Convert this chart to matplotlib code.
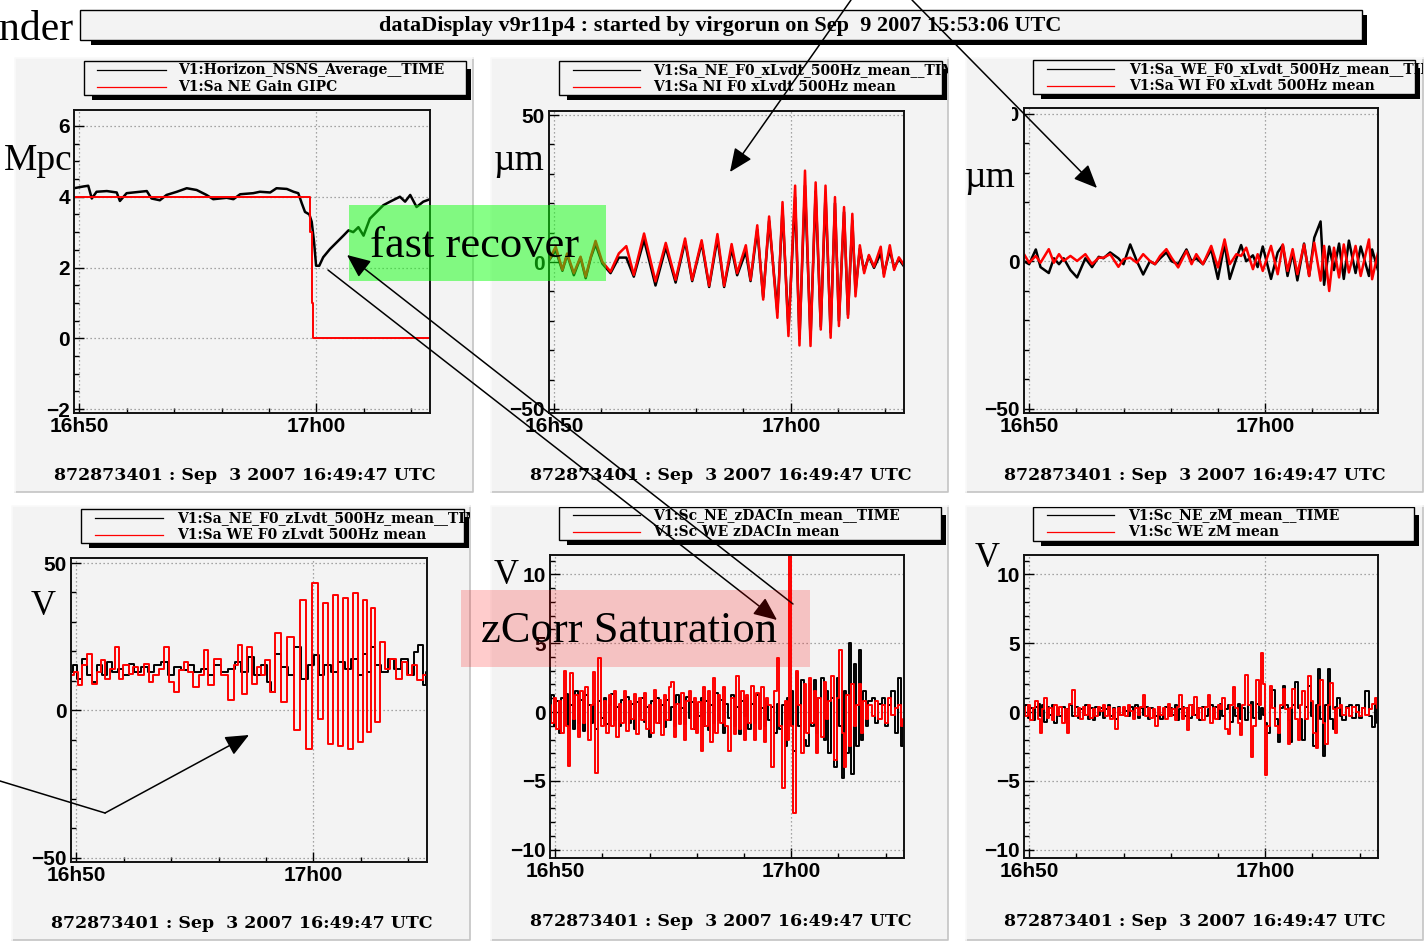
import numpy as np
import matplotlib
matplotlib.use("Agg")
import matplotlib.pyplot as plt
from matplotlib.patches import Rectangle
from matplotlib.transforms import Bbox
from matplotlib.ticker import FixedLocator, MultipleLocator

W, H = 1427, 942

# ---------------- data ----------------
title_text = "dataDisplay v9r11p4 : started by virgorun on Sep  9 2007 15:53:06 UTC"
date_text = "872873401 : Sep  3 2007 16:49:47 UTC"
xtick_pos = [13, 613]            # seconds after 16:49:47
xtick_labels = ["16h50", "17h00"]
xminor_pos = [133, 253, 373, 493, 733, 853]

legend_names = [
    ["V1:Horizon_NSNS_Average__TIME", "V1:Sa NE Gain GIPC"],
    ["V1:Sa_NE_F0_xLvdt_500Hz_mean__TIME", "V1:Sa NI F0 xLvdt 500Hz mean"],
    ["V1:Sa_WE_F0_xLvdt_500Hz_mean__TIME", "V1:Sa WI F0 xLvdt 500Hz mean"],
    ["V1:Sa_NE_F0_zLvdt_500Hz_mean__TIME", "V1:Sa WE F0 zLvdt 500Hz mean"],
    ["V1:Sc_NE_zDACIn_mean__TIME", "V1:Sc WE zDACIn mean"],
    ["V1:Sc_NE_zM_mean__TIME", "V1:Sc WE zM mean"],
]

# panel 1 : horizon (Mpc) and gain
t_horizon = [0, 24, 36, 45, 57, 83, 108, 116, 133, 167, 184, 196, 217, 234, 260, 285, 310, 335,
             352, 386, 403, 420, 453, 470, 496, 512, 538, 555, 567, 576, 584, 595, 601, 607,
             612, 620, 630, 647, 664, 681, 694, 706, 719, 732, 748, 765, 782, 799, 824, 837,
             850, 866, 883, 900]
horizon = [4.24, 4.29, 4.31, 3.95, 4.14, 4.16, 4.12, 3.88, 4.10, 4.14, 4.16, 3.95, 3.90, 4.05,
           4.14, 4.24, 4.19, 4.05, 3.93, 3.97, 3.93, 4.07, 4.10, 4.14, 4.12, 4.24, 4.22, 4.14,
           4.10, 3.81, 3.57, 3.50, 3.29, 2.71, 2.05, 2.05, 2.29, 2.52, 2.71, 2.90, 3.05, 3.00,
           3.14, 2.90, 3.38, 3.57, 3.76, 3.86, 4.00, 3.86, 4.05, 3.71, 3.86, 3.93]
t_gain = [0, 597, 601, 605, 900]
gain = [4.0, 3.0, 1.0, 0.0, 0.0]

# panel 2 : x LVDT NE / NI (um)
t_xn = [0, 17, 34, 46, 63, 80, 93, 106, 118, 135, 156, 177, 196, 215, 241, 270, 296, 321, 345,
        363, 387, 406, 427, 444, 463, 477, 499, 511, 528, 543, 558, 579, 592, 607, 624, 635,
        649, 663, 676, 689, 701, 714, 725, 735, 748, 758, 769, 777, 788, 799, 811, 824, 841,
        849, 864, 875, 887, 900]
xlvdt_ne = [0.5, 4, -3, 2.5, -4.5, 1.5, -5.5, 1.5, 6, -0.5, -3.8, 1.5, 1.5, -5, 7.5, -8, 5, -7,
            7, -6.5, 6.5, -8.5, 8, -8.5, 4.5, -4.5, 3.5, -6.5, 11, -12, 14, -17, 18, -23, 22,
            -26, 26, -26, 24, -22, 23, -24, 20, -20, 17, -18, 14, -10, 4.5, -3, 2, -2, 3, -4,
            4, -2, 1, -1.5]
xlvdt_ni = [0.7, 5.2, -2.7, 2.9, -3.8, 1.8, -5.0, 1.8, 7.2, 0.1, -3.3, 2.9, 5.4, -4.4, 9.7,
            -6.6, 6.5, -6.1, 8.0, -6.1, 7.4, -8.1, 9.5, -8.1, 6.1, -3.8, 5.7, -6.1, 12.5,
            -12.8, 15.5, -19.0, 20.4, -25.2, 26.0, -28.4, 31.1, -28.6, 27.1, -23.0, 26.0,
            -25.8, 22.1, -21.8, 18.7, -19.0, 16.4, -11.7, 5.7, -3.8, 2.4, -1.6, 5.2, -5.0, 5.7,
            -2.7, 1.6, -1.0]

# panel 3 : x LVDT WE / WI (um)
t_xw = [0, 13, 30, 42, 63, 76, 89, 101, 118, 135, 156, 173, 190, 202, 219, 240, 253, 270, 287,
        303, 320, 333, 346, 362, 375, 392, 413, 426, 438, 455, 476, 493, 510, 523, 540, 552,
        565, 582, 594, 607, 628, 645, 658, 670, 683, 695, 712, 725, 738, 754, 763, 776, 788,
        801, 813, 826, 843, 856, 877, 885, 900]
xlvdt_we = [0, -1, 4, -2, -4, 1, -1, 1, -3, -5.5, 1, -2, 1.5, 1, 3, 1, -1, 5.7, 0, -4.5, 0, -1,
            1, 3, 0, -1, 4, 0, 1, -1, 4, -6, 6, -6, 1, 5.5, 0, 2, -2, 5, -6, 3, 5.5, -5, 3,
            -6.5, 6, -5, 8, 13.5, -8, 5, -3, 6, -6, 7, -4, 5, -5, 4, -3]
xlvdt_wi = [2.4, -0.5, 1.8, -0.5, 4.1, -0.5, 2.4, 0.1, 1.8, 0.1, 2.4, -1.0, 1.2, 1.2, 2.4, -1.9,
            0.7, 1.2, -0.5, 2.4, 0.1, -1.0, 1.8, 4.1, 1.2, -2.1, 3.5, -1.0, 2.4, -1.0, 5.2,
            -2.1, 7.4, -1.0, 2.4, 1.8, 4.6, -2.7, 2.4, -3.3, 5.2, -4.4, 5.7, -3.3, 4.1, -4.4,
            5.7, -5.0, 6.3, -6.6, 5.2, -10.1, 4.6, -5.5, 5.7, -3.8, 5.2, -5.0, 7.4, -6.1, 2.9]

# panel 4 : z LVDT NE / WE
t_zl_ne = [0, 10, 21, 34, 46, 59, 72, 84, 97, 110, 126, 139, 152, 169, 185, 202, 219, 236, 253,
           270, 287, 303, 320, 337, 354, 371, 388, 405, 422, 438, 455, 472, 489, 502, 510, 523,
           540, 556, 573, 590, 607, 620, 632, 649, 666, 683, 700, 717, 733, 742, 754, 763, 776,
           792, 809, 826, 843, 860, 872, 885, 894, 900]
zlvdt_ne = [13.0, 15.3, 10.8, 17.6, 11.9, 9.6, 15.3, 11.9, 16.4, 13.0, 14.2, 11.9, 15.9, 13.0,
            14.7, 13.0, 15.3, 16.4, 11.9, 14.7, 13.6, 15.3, 13.0, 14.2, 11.9, 15.3, 13.0, 14.2,
            16.4, 13.0, 18.1, 11.9, 15.3, 9.6, 6.2, 19.3, 14.7, 11.9, 21.5, 10.8, 15.3, 18.7,
            11.9, 15.3, 13.0, 16.4, 14.2, 17.6, 11.9, 19.3, 13.0, 21.5, 15.3, 13.0, 17.6, 14.2,
            17.6, 11.9, 19.8, 22.1, 8.5, 13.0]
t_zl_we = [0, 13, 21, 34, 46, 59, 72, 80, 93, 105, 116, 126, 139, 152, 164, 177, 190, 202, 215,
           228, 240, 253, 266, 278, 291, 303, 316, 329, 341, 354, 371, 388, 405, 417, 426, 438,
           451, 464, 476, 485, 497, 510, 523, 538, 556, 572, 586, 603, 617, 631, 645, 656, 670,
           681, 696, 706, 721, 732, 742, 755, 763, 776, 786, 801, 814, 830, 843, 856, 868, 881,
           900]
zlvdt_we = [11.9, 13.0, 8.5, 15.3, 19.3, 9.1, 13.0, 17.0, 10.8, 14.2, 21.5, 10.8, 15.3, 12.5,
            14.7, 11.9, 15.9, 9.6, 11.9, 14.2, 21.5, 9.6, 6.2, 13.6, 16.4, 13.0, 7.9, 11.9, 20.4,
            8.5, 17.6, 11.9, 3.4, 15.3, 22.1, 5.7, 21.5, 9.1, 14.7, 11.9, 17.0, 6.2, 26.1, 2.8,
            24.9, -6.8, 37.4, -13.0, 43.1, -2.8, 36.3, -11.3, 39.1, -11.9, 38.0, -13.0, 39.7,
            -10.8, 37.4, -7.4, 34.6, -4.0, 23.2, 14.2, 17.6, 10.8, 16.4, 11.9, 15.3, 10.2, 11.9]

# panels 5 and 6 : zDACIn and zM (V), common sampling
t_sc = [0, 7, 13, 19, 25, 32, 38, 44, 49, 55, 61, 68, 75, 80, 86, 93, 100, 106, 112, 119,
        127, 134, 140, 146, 152, 159, 165, 171, 178, 185, 191, 197, 203, 210, 216, 222, 229,
        235, 241, 247, 254, 261, 267, 273, 280, 286, 292, 298, 305, 312, 318, 324, 330, 337,
        343, 349, 356, 363, 368, 374, 381, 386, 391, 398, 405, 411, 417, 424, 430, 436, 442,
        449, 457, 464, 470, 476, 483, 490, 495, 501, 508, 515, 521, 527, 534, 540, 546, 552,
        559, 566, 573, 580, 586, 593, 600, 606, 610, 615, 623, 628, 635, 642, 648, 654, 661,
        667, 673, 679, 686, 693, 699, 705, 711, 718, 725, 732, 739, 745, 750, 756, 762, 769,
        775, 781, 788, 794, 800, 806, 813, 822, 830, 839, 847, 855, 864, 872, 881, 889, 896,
        900]
zdac_ne = [-0.5, 1.2, -1.0, 0.8, -1.5, 1.0, -0.5, 1.3, -1.0, 0.5, -1.2, 1.5, -0.8, 0.9, -1.4,
           1.2, 0.5, -0.8, 0.6, -1.2, 0.8, -0.4, 1.0, -0.9, 0.5, 1.3, -0.6, 0.4, -1.0, 0.9,
           -0.5, 1.1, -0.8, 0.6, -1.2, 0.7, -0.3, 1.0, -0.7, 0.4, -1.8, 0.8, -0.5, 1.0, -0.8,
           0.5, -1.1, 0.9, -0.6, 0.4, -1.0, 1.2, -0.5, 0.3, -0.9, 1.1, -0.4, 0.7, -1.2, 0.6,
           -0.3, 1.0, -1.0, 0.8, -1.3, 0.5, -0.8, 1.4, -0.6, 0.9, -1.5, 0.6, -0.4, 1.2, -1.0,
           0.4, -1.6, 0.8, -0.3, 1.0, -1.2, 0.6, -0.8, 1.2, -0.5, 0.3, -1.0, 0.8, -0.6, 0.4,
           -1.5, 0.6, -1.2, 0.5, -2.5, 1.0, -0.5, 1.5, -2.8, 2.8, -1.0, 2.3, -2.0, -2.5, 2.0,
           -1.0, 2.3, -1.5, 1.0, 2.5, -2.0, 1.5, -3.0, 1.0, -4.0, 2.5, -1.0, -4.8, 1.5, -3.0,
           5.0, -4.5, 3.5, -2.5, 4.5, -2.0, 1.5, -1.0, 0.8, 1.0, -0.8, 0.6, 1.0, -1.0, 0.5,
           1.5, -1.5, 2.5, -2.5, -1.0]
zdac_we = [0.5, -0.8, 1.0, -1.2, 0.8, -1.5, 3.0, -1.0, -3.9, 2.8, -0.5, 1.2, -1.8, 1.5, -0.8,
           1.8, -2.0, 0.5, 2.9, -4.4, 3.9, -1.0, 0.8, -1.5, 1.2, -1.0, 1.5, -1.8, 0.6, -0.8,
           1.5, -1.4, 0.8, -0.5, 1.3, -1.6, 1.0, -0.6, 1.4, -1.2, 0.5, -1.5, 1.6, -0.8, 0.9,
           -1.7, 1.2, -0.6, 1.8, 2.2, -1.8, 0.6, -0.9, 1.4, -2.0, 0.8, 1.5, -1.2, 1.0, -1.5,
           0.7, -2.8, 1.8, -1.0, 1.5, -2.2, 2.5, -1.5, 1.2, -0.8, 1.8, -1.0, -2.8, 1.0, -1.6,
           2.6, -1.2, 1.5, -2.0, 1.2, -0.8, 1.9, -2.0, 1.4, -1.2, 1.8, -2.2, 1.0, 0.5, -4.0,
           1.5, 3.9, -1.0, -5.5, 0.8, -2.0, 11.5, -1.0, -7.3, 3.0, 0.5, -3.0, 2.0, -1.5, 2.5,
           -0.8, 1.5, -3.0, 1.0, -1.8, 2.2, -0.5, 0.8, 2.6, -3.5, 1.0, 4.5, -1.5, -4.0, 1.2,
           -2.5, 2.0, -1.0, 0.5, 2.0, -1.5, 0.8, -0.5, 0.5, -0.3, 0.8, -0.5, 0.5, -0.8, 1.0,
           -0.2, 0.3, 0.5, -1.0, -0.5]
zm_ne = [0.2, 0.5, -0.4, 0.3, -0.6, 0.4, 0.6, -0.3, 0.5, -0.7, 0.4, -0.2, 0.5, -0.8, 0.3, -0.3,
         0.4, -0.5, 0.2, 0.5, -0.3, 0.4, -0.4, 0.2, -0.2, 0.5, -0.5, 0.3, -0.6, 0.4, -0.2, 0.3,
         -0.4, 0.2, 0.5, -0.3, 0.3, -0.5, 0.4, -0.2, 0.3, 0.1, -0.3, 0.4, -0.2, 0.5, -0.4, 0.3,
         -0.2, 0.4, -0.5, 0.3, 0.1, -0.3, 0.4, -0.5, 0.2, 0.4, -0.3, 0.3, -0.2, 0.5, -0.6, 0.2,
         0.4, -0.3, 0.3, -0.4, 0.5, -0.2, 0.3, -0.6, 0.4, -0.3, 0.2, 0.5, -0.4, 0.4, -0.5, 0.6,
         -0.3, 0.2, 0.5, -0.7, 0.4, -0.3, 0.6, -0.5, 0.3, -0.6, 0.5, 0.7, -0.4, 0.6, -0.5, 0.3,
         -0.2, -0.8, -1.5, 0.5, 1.6, -0.5, -2.2, 0.3, 1.9, 0.5, -0.6, -2.2, 0.5, 2.2, 0.3, -0.5,
         -2.0, 0.4, 1.9, -0.3, -2.5, 0.5, 3.1, -0.5, -3.2, 0.5, 3.1, -0.5, -1.2, 0.4, 1.0, -0.3,
         -0.6, 0.4, 0.5, -0.4, 0.5, -0.4, 0.3, 1.5, -0.3, -1.1, 0.5, -0.8]
zm_we = [0.4, -0.3, 0.5, -0.6, 0.3, 0.8, -0.5, -1.5, 0.2, 1.0, -0.4, 0.3, -0.6, 0.5, -0.2, 0.4,
         -0.8, 0.2, -1.5, 0.6, 1.6, -0.3, 0.3, -0.5, 0.4, -0.2, 0.5, -0.4, 0.2, -0.3, 0.4, 0.1,
         0.5, -0.3, 0.4, -0.5, 0.2, -1.2, 0.3, -0.2, 0.4, -0.3, 0.5, 0.1, -0.5, 0.3, -0.2, 0.4,
         1.2, -0.3, 0.3, -0.4, 0.2, -1.0, 0.4, -0.2, 0.3, -0.5, 0.6, -0.3, 0.2, -0.6, 0.4, 1.2,
         -0.5, 0.3, -1.3, 0.5, -0.2, 1.1, -0.4, 0.3, -0.6, 0.4, 1.2, -0.8, 0.3, -0.5, 0.5, 0.2,
         1.0, -1.2, -1.6, 0.5, 1.8, 0.3, -0.8, -1.7, 0.5, 2.7, 0.5, -3.3, -1.0, 2.3, 0.5, 4.3,
         2.0, -4.6, -1.0, 1.9, 0.3, -1.0, -1.5, 0.5, 1.7, 0.2, -2.3, 0.3, 1.7, -0.5, -2.0, 0.5,
         1.5, -0.5, 2.6, 0.8, -1.5, -2.6, 0.5, 2.3, -0.8, -2.3, 0.5, 2.1, 0.2, -1.5, 0.3, 0.5,
         -0.2, 0.3, -0.3, 0.4, 0.0, -0.3, 0.3, -0.2, 0.2, 0.6, 1.0, 0.3]

# ---------------- figure ----------------
fig = plt.figure(figsize=(W / 100, H / 100), dpi=100)
fig.patch.set_facecolor("white")

bg = fig.add_axes([0, 0, 1, 1], zorder=-5)
bg.set_xlim(0, W); bg.set_ylim(H, 0); bg.axis("off")
ov = fig.add_axes([0, 0, 1, 1], zorder=5)
ov.set_xlim(0, W); ov.set_ylim(H, 0); ov.axis("off"); ov.patch.set_alpha(0)

PANEL = "#f3f3f3"
frames = [(15, 58, 473, 492), (491, 58, 948, 492), (966, 58, 1423, 492),
          (12, 506, 470, 940), (491, 506, 948, 940), (966, 506, 1423, 940)]
for (x0, y0, x1, y1) in frames:
    bg.add_patch(Rectangle((x0, y0), x1 - x0, y1 - y0, fc=PANEL, ec="none"))
    bg.plot([x0, x1, x1], [y1, y1, y0], color="#c4c4c4", lw=1.2)
    bg.plot([x0, x0, x1], [y1, y0, y0], color="#fafafa", lw=1.2)

# title box
bg.add_patch(Rectangle((91, 15), 1276, 30, fc="black", ec="none"))
bg.add_patch(Rectangle((80, 10), 1282, 30, fc=PANEL, ec="black", lw=1.0))
bg.text(720, 26, title_text, ha="center", va="center", fontsize=16,
        fontfamily="Liberation Serif", fontweight="bold")


def rect(x0, y0, x1, y1):
    return [x0 / W, 1 - y1 / H, (x1 - x0) / W, (y1 - y0) / H]


axes_px = [(74, 110, 430, 413), (549, 111, 904, 413), (1024, 108, 1378, 413),
           (71, 558, 427, 862), (550, 555, 904, 858), (1024, 555, 1378, 858)]
ylims = [(-2.11, 6.45), (-51.4, 51.4), (-51.5, 52.0), (-51.4, 51.7), (-10.6, 11.4), (-10.6, 11.4)]
majors = [2, 50, 50, 50, 5, 5]
minors = [0.5, 10, 10, 10, 1, 1]
styles = [["default", "steps-post"], ["default", "default"], ["default", "default"],
          ["steps-mid", "steps-mid"], ["steps-mid", "steps-mid"], ["steps-mid", "steps-mid"]]

series = [
    [(t_horizon, horizon, "black"), (t_gain, gain, "red")],
    [(t_xn, xlvdt_ne, "black"), (t_xn, xlvdt_ni, "red")],
    [(t_xw, xlvdt_we, "black"), (t_xw, xlvdt_wi, "red")],
    [(t_zl_ne, zlvdt_ne, "black"), (t_zl_we, zlvdt_we, "red")],
    [(t_sc, zdac_ne, "black"), (t_sc, zdac_we, "red")],
    [(t_sc, zm_ne, "black"), (t_sc, zm_we, "red")],
]

for i, (px, yl) in enumerate(zip(axes_px, ylims)):
    ax = fig.add_axes(rect(*px), zorder=0)
    ax.set_facecolor(PANEL)
    for j, (tt, vv, col) in enumerate(series[i]):
        lw = 1.8 if styles[i][j] == "default" else 1.4
        ax.plot(tt, vv, color=col, lw=lw, drawstyle=styles[i][j])
    ax.set_xlim(0, 900)
    ax.set_ylim(*yl)
    ax.xaxis.set_major_locator(FixedLocator(xtick_pos))
    ax.set_xticklabels(xtick_labels)
    ax.xaxis.set_minor_locator(FixedLocator(xminor_pos))
    ax.yaxis.set_major_locator(MultipleLocator(majors[i]))
    ax.yaxis.set_minor_locator(MultipleLocator(minors[i]))
    ax.tick_params(which="both", direction="in", top=False, right=False, color="black")
    ax.tick_params(which="major", length=7, width=1.0, pad=3, labelsize=15)
    ax.tick_params(which="minor", length=3.5, width=1.0)
    ax.grid(True, which="major", linestyle=(0, (1, 2.2)), color="#8a8a8a", lw=0.9)
    for s in ax.spines.values():
        s.set_linewidth(1.4)
        s.set_color("#111111")
    for lab in ax.get_xticklabels() + ax.get_yticklabels():
        lab.set_fontfamily("Liberation Sans")
        lab.set_fontweight("bold")

# legends
legends = [(84, 61, 466, 95, 97, 166, 178, 70, 87, 473),
           (559, 61, 942, 95, 573, 640, 653, 70, 87, 948),
           (1033, 60, 1415, 94, 1047, 1114, 1129, 69, 86, 1423),
           (81, 509, 464, 543, 95, 163, 177, 518, 535, 470),
           (559, 507, 941, 540, 573, 640, 653, 515, 532, 948),
           (1033, 507, 1414, 541, 1047, 1114, 1128, 515, 532, 1423)]
for k, (x0, y0, x1, y1, lx0, lx1, tx, ya, yb, cx) in enumerate(legends):
    bg.add_patch(Rectangle((x0 + 8, y0 + 8), x1 - x0 - 3, y1 - y0 - 3, fc="black", ec="none"))
    bg.add_patch(Rectangle((x0, y0), x1 - x0, y1 - y0, fc=PANEL, ec="black", lw=1.0))
    bg.plot([lx0, lx1], [ya, ya], color="black", lw=0.9)
    bg.plot([lx0, lx1], [yb, yb], color="red", lw=0.9)
    for yy, name in zip([ya, yb], legend_names[k]):
        t = bg.text(tx, yy, name, ha="left", va="center", fontsize=10,
                    fontfamily="DejaVu Serif", fontweight="bold")
        t.set_clip_box(Bbox.from_extents(0, 0, cx, H))
        t.set_clip_on(True)

# date stamps
for (cx, cy) in [(245, 476), (721, 476), (1195, 476), (242, 924), (721, 921), (1195, 921)]:
    bg.text(cx, cy, date_text, ha="center", va="center", fontsize=12.5,
            fontfamily="DejaVu Serif", fontweight="bold")

# ---------------- annotations overlay ----------------
SERIF = "Liberation Serif"
ov.text(73, 40, "nder", ha="right", va="baseline", fontsize=30, fontfamily=SERIF)
ov.add_patch(Rectangle((968, 101), 44, 100, fc=PANEL, ec="none", zorder=1))
ov.text(4, 170, "Mpc", ha="left", va="baseline", fontsize=27, fontfamily=SERIF, zorder=4)
ov.text(494, 170, "µm", ha="left", va="baseline", fontsize=27, fontfamily=SERIF, zorder=4)
ov.text(965, 187, "µm", ha="left", va="baseline", fontsize=27, fontfamily=SERIF, zorder=4)
ov.text(31, 615, "V", ha="left", va="baseline", fontsize=25, fontfamily=SERIF, zorder=4)
ov.text(494, 584, "V", ha="left", va="baseline", fontsize=25, fontfamily=SERIF, zorder=4)
ov.text(975, 567, "V", ha="left", va="baseline", fontsize=25, fontfamily=SERIF, zorder=4)

# green box
ov.add_patch(Rectangle((349, 205), 257, 76, fc="#10ff10", alpha=0.5, ec="none", zorder=1))
ov.text(370, 257, "fast recover", ha="left", va="baseline", fontsize=32,
        fontfamily=SERIF, zorder=4)

aprops = dict(arrowstyle="-|>,head_length=0.8,head_width=0.35", color="black", lw=1.1,
              mutation_scale=18, shrinkA=0, shrinkB=0)
ov.annotate("", xy=(730, 172), xytext=(851, 0), arrowprops=aprops, zorder=2)
ov.annotate("", xy=(1097, 188), xytext=(912, 0), arrowprops=aprops, zorder=2)
ov.annotate("", xy=(347, 255), xytext=(793, 604), arrowprops=aprops, zorder=2)
ov.annotate("", xy=(777, 620), xytext=(328, 270), arrowprops=aprops, zorder=2)
ov.plot([0, 105], [781, 813], color="black", lw=1.1, zorder=2)
ov.annotate("", xy=(249, 735), xytext=(105, 813), arrowprops=aprops, zorder=2)

# pink box
ov.add_patch(Rectangle((461, 590), 349, 77, fc="#ff0000", alpha=0.2, ec="none", zorder=3))
ov.text(481, 642, "zCorr Saturation", ha="left", va="baseline", fontsize=32,
        fontfamily=SERIF, zorder=4)

fig.savefig("out.png", dpi=100, facecolor=fig.get_facecolor())
